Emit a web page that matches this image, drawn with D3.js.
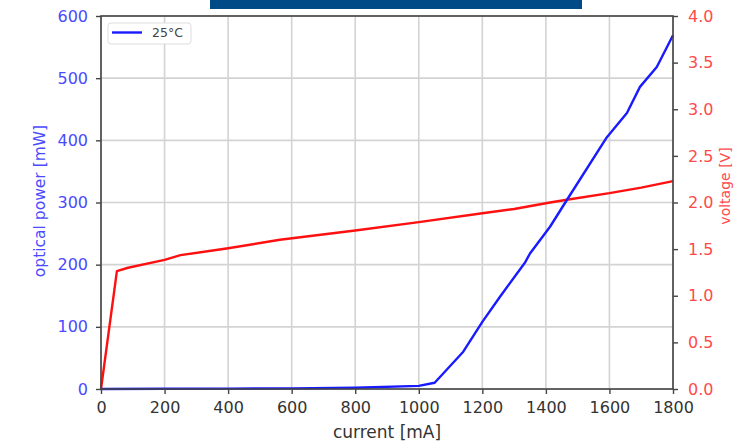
<!DOCTYPE html>
<html><head><meta charset="utf-8">
<script src="https://cdn.jsdelivr.net/npm/d3@7"></script>
<style>body{margin:0;background:#fff}svg{display:block}text{font-family:"DejaVu Sans",sans-serif}</style>
</head><body><svg id="c" width="735" height="443"></svg>
<script>
const currentBlue = [0,200,400,600,800,1000,1050,1140,1200,1255,1335,1350,1413,1466,1592,1655,1696,1749,1800];
const powerBlue   = [0,0.3,0.6,1,2,5,10,60,108,148,204,218,261,304,405,444,486,518,569];
const currentRed  = [0,50,85,200,250,400,563,800,1000,1200,1300,1413,1466,1600,1700,1800];
const voltageRed  = [0,1.265,1.30,1.385,1.435,1.51,1.60,1.70,1.79,1.885,1.93,2.0,2.03,2.10,2.16,2.23];
const xTicks = [0,200,400,600,800,1000,1200,1400,1600,1800];
const yLeftTicks = [0,100,200,300,400,500,600];
const yRightTicks = [0,0.5,1,1.5,2,2.5,3,3.5,4];
const legendLabel = "25°C";

const svg = d3.select("#c");
const L=101, R=673, T=16, B=389;
const x = d3.scaleLinear().domain([0,1800]).range([L,R]);
const yl = d3.scaleLinear().domain([0,600]).range([B,T]);
const yr = d3.scaleLinear().domain([0,4]).range([B,T]);

// top banner
svg.append("rect").attr("x",210).attr("y",0).attr("width",372).attr("height",9).attr("fill","#004b87");

// grid
const g = svg.append("g");
g.selectAll(".gx").data(xTicks).join("line").attr("x1",d=>x(d)).attr("x2",d=>x(d)).attr("y1",T).attr("y2",B)
 .attr("stroke","#d3d3d3").attr("stroke-width",1.6);
g.selectAll(".gy").data(yLeftTicks).join("line").attr("y1",d=>yl(d)).attr("y2",d=>yl(d)).attr("x1",L).attr("x2",R)
 .attr("stroke","#d3d3d3").attr("stroke-width",1.6);

// lines
const lineB = d3.line().x(d=>x(d[0])).y(d=>yl(d[1]));
const lineR = d3.line().x(d=>x(d[0])).y(d=>yr(d[1]));
svg.append("path").datum(currentRed.map((c,i)=>[c,voltageRed[i]])).attr("d",lineR).attr("fill","none").attr("stroke","#ff1010").attr("stroke-width",2.4).attr("stroke-linejoin","round");
svg.append("path").datum(currentBlue.map((c,i)=>[c,powerBlue[i]])).attr("d",lineB).attr("fill","none").attr("stroke","#1a1aff").attr("stroke-width",2.4).attr("stroke-linejoin","round");

// spines
svg.append("rect").attr("x",L).attr("y",T).attr("width",R-L).attr("height",B-T).attr("fill","none").attr("stroke","#444").attr("stroke-width",1.6);

// axes
function style(ax, color){
  ax.select(".domain").remove();
  ax.selectAll(".tick line").attr("stroke","#444").attr("stroke-width",1.4);
  ax.selectAll(".tick text").attr("fill",color).style("font-size","16px").style("font-family","DejaVu Sans");
}
const ax = svg.append("g").attr("transform",`translate(0,${B})`).call(d3.axisBottom(x).tickValues(xTicks).tickSize(5).tickPadding(8).tickFormat(d3.format("d")));
style(ax,"#333");
const ayl = svg.append("g").attr("transform",`translate(${L},0)`).call(d3.axisLeft(yl).tickValues(yLeftTicks).tickSize(5).tickPadding(8).tickFormat(d3.format("d")));
style(ayl,"#4a4aff");
const ayr = svg.append("g").attr("transform",`translate(${R},0)`).call(d3.axisRight(yr).tickValues(yRightTicks).tickSize(5).tickPadding(10).tickFormat(d3.format(".1f")));
style(ayr,"#ff4a4a");

// axis labels
svg.append("text").attr("x",387).attr("y",438).attr("text-anchor","middle").attr("fill","#333").style("font-size","17px").text("current [mA]");
svg.append("text").attr("transform",`translate(45,201) rotate(-90)`).attr("text-anchor","middle").attr("fill","#4a4aff").style("font-size","15.5px").text("optical power [mW]");
svg.append("text").attr("transform",`translate(730,186) rotate(-90)`).attr("text-anchor","middle").attr("fill","#ff4a4a").style("font-size","14px").text("voltage [V]");

// legend
const lg = svg.append("g");
lg.append("rect").attr("x",108).attr("y",23).attr("width",83).attr("height",21).attr("rx",3).attr("fill","#fff").attr("stroke","#ddd").attr("stroke-width",1);
lg.append("line").attr("x1",112).attr("x2",142).attr("y1",32.5).attr("y2",32.5).attr("stroke","#1a1aff").attr("stroke-width",2.4);
lg.append("text").attr("x",152).attr("y",37).attr("fill","#444").style("font-size","12.5px").text(legendLabel);
</script></body></html>
